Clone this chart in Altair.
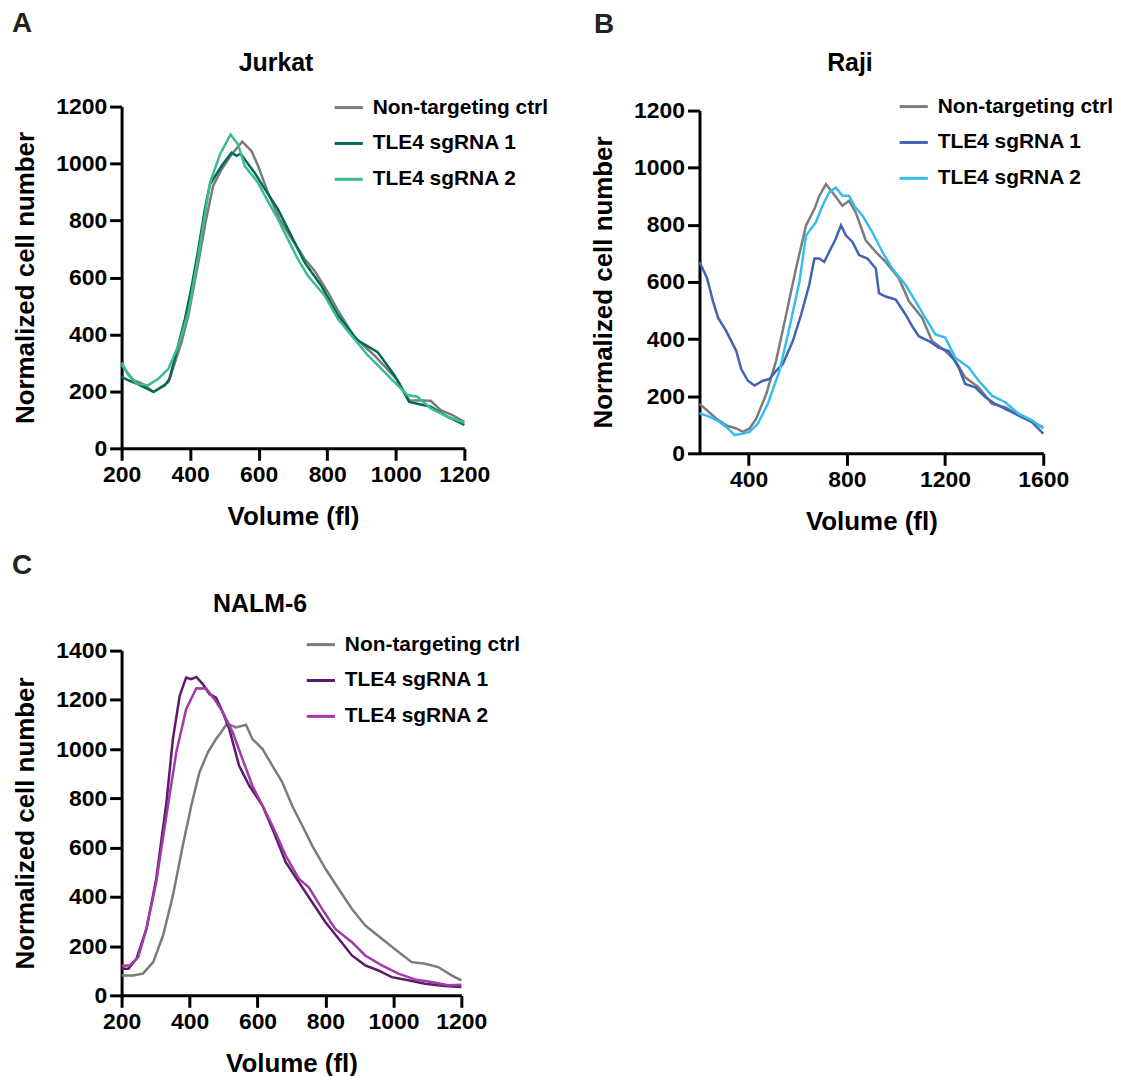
import altair as alt
import pandas as pd

FONT = "Liberation Sans"
series_names = ["Non-targeting ctrl", "TLE4 sgRNA 1", "TLE4 sgRNA 2"]

# ---------------- Panel A: Jurkat ----------------
a_ctrl_x = [200, 234, 260, 293, 337, 356, 375, 395, 424, 446, 467, 492, 521, 552, 579, 598, 627, 661, 700, 734, 763, 802, 831, 879, 937, 1005, 1039, 1070, 1102, 1131, 1165, 1200]
a_ctrl_y = [292, 240, 227, 198, 233, 303, 373, 467, 653, 800, 921, 980, 1032, 1077, 1044, 992, 898, 805, 729, 665, 624, 548, 484, 391, 327, 239, 169, 168, 167, 134, 117, 93]
a_sg1_x = [200, 220, 244, 293, 327, 340, 385, 405, 424, 443, 458, 492, 521, 535, 547, 559, 588, 618, 656, 695, 734, 782, 831, 889, 947, 996, 1039, 1102, 1151, 1200]
a_sg1_y = [251, 239, 227, 198, 222, 245, 455, 572, 700, 840, 927, 992, 1038, 1027, 1035, 1015, 968, 910, 840, 747, 653, 572, 467, 379, 338, 257, 163, 146, 111, 82]
a_sg2_x = [200, 220, 244, 278, 308, 337, 366, 395, 424, 458, 487, 518, 540, 559, 598, 618, 656, 690, 714, 743, 792, 831, 870, 918, 986, 1034, 1063, 1102, 1151, 1200]
a_sg2_y = [301, 257, 227, 222, 245, 280, 362, 478, 677, 933, 1032, 1102, 1067, 992, 933, 887, 805, 723, 665, 607, 537, 455, 397, 327, 245, 187, 181, 140, 111, 90]

# ---------------- Panel B: Raji ----------------
b_ctrl_x = [200, 231, 269, 309, 350, 377, 404, 431, 472, 512, 553, 593, 634, 668, 688, 715, 742, 782, 809, 836, 877, 918, 958, 1012, 1053, 1107, 1147, 1201, 1242, 1282, 1337, 1391, 1445, 1499, 1553, 1600]
b_ctrl_y = [173, 150, 121, 98, 87, 75, 87, 121, 208, 324, 486, 647, 798, 855, 902, 942, 913, 867, 884, 844, 746, 705, 670, 613, 532, 474, 393, 358, 324, 266, 231, 173, 162, 133, 110, 92]
b_sg1_x = [200, 231, 255, 276, 309, 350, 370, 397, 424, 458, 485, 512, 539, 580, 614, 647, 668, 688, 708, 728, 755, 776, 796, 823, 850, 884, 918, 931, 958, 999, 1039, 1066, 1093, 1134, 1174, 1215, 1255, 1282, 1323, 1364, 1404, 1445, 1499, 1553, 1600]
b_sg1_y = [670, 613, 532, 474, 428, 358, 295, 254, 237, 254, 260, 289, 312, 393, 486, 590, 682, 682, 670, 705, 751, 798, 763, 740, 694, 682, 647, 561, 549, 538, 486, 445, 410, 393, 370, 358, 301, 243, 231, 197, 173, 156, 133, 110, 69]
b_sg2_x = [200, 244, 282, 316, 343, 377, 404, 438, 478, 526, 566, 607, 634, 674, 701, 728, 755, 782, 809, 830, 864, 904, 945, 985, 1039, 1080, 1120, 1161, 1201, 1242, 1296, 1337, 1391, 1445, 1499, 1553, 1600]
b_sg2_y = [141, 127, 110, 87, 64, 69, 75, 104, 173, 289, 439, 601, 763, 809, 867, 913, 931, 902, 902, 867, 832, 774, 705, 647, 590, 532, 474, 416, 405, 335, 301, 254, 202, 179, 139, 116, 87]

# ---------------- Panel C: NALM-6 ----------------
c_ctrl_x = [200, 234, 263, 293, 322, 351, 380, 405, 429, 454, 478, 493, 510, 537, 566, 585, 615, 644, 673, 702, 732, 761, 800, 839, 878, 917, 966, 1015, 1054, 1093, 1132, 1171, 1200]
c_ctrl_y = [81, 81, 88, 135, 243, 405, 608, 770, 905, 987, 1041, 1068, 1104, 1088, 1099, 1041, 1000, 932, 865, 770, 689, 608, 514, 432, 351, 284, 230, 176, 135, 128, 115, 81, 61]
c_sg1_x = [200, 220, 244, 273, 302, 332, 351, 371, 390, 405, 420, 439, 459, 478, 498, 517, 546, 576, 615, 644, 683, 722, 761, 800, 839, 878, 917, 956, 995, 1044, 1093, 1151, 1200]
c_sg1_y = [108, 108, 149, 270, 473, 784, 1041, 1216, 1291, 1284, 1293, 1264, 1223, 1209, 1149, 1081, 932, 851, 770, 676, 541, 459, 378, 297, 230, 162, 122, 101, 74, 61, 47, 38, 34]
c_sg2_x = [200, 224, 249, 273, 302, 332, 361, 390, 420, 449, 473, 498, 527, 556, 585, 615, 644, 683, 722, 751, 790, 829, 878, 917, 966, 1015, 1063, 1112, 1161, 1200]
c_sg2_y = [119, 122, 155, 270, 459, 730, 987, 1162, 1247, 1246, 1203, 1149, 1068, 959, 851, 770, 689, 568, 473, 439, 351, 270, 216, 162, 122, 88, 65, 54, 41, 43]

colors_a = ["#7b7b7b", "#00695a", "#3cbc8d"]
colors_b = ["#7b7b7b", "#4262b5", "#34bdf0"]
colors_c = ["#7b7b7b", "#5c1a6a", "#a23aa8"]


def make_df(xs, ys, key):
    rows = []
    for name, xv, yv in zip(series_names, xs, ys):
        for a, b in zip(xv, yv):
            rows.append({"vol": a, "count": b, key: name})
    return pd.DataFrame(rows)


def panel(df, key, letter, title, colors, xdom, xvals, ydom, yvals, w, h,
          leg_x, leg_y, letter_pos, title_pos, yrange=None):
    yscale = (alt.Scale(domain=ydom, nice=False, range=yrange) if yrange
              else alt.Scale(domain=ydom, nice=False))
    lines = alt.Chart(df).mark_line(strokeWidth=2.5).encode(
        x=alt.X("vol:Q", title="Volume (fl)",
                scale=alt.Scale(domain=xdom, nice=False, zero=False),
                axis=alt.Axis(values=xvals, format="d")),
        y=alt.Y("count:Q", title="Normalized cell number",
                scale=yscale,
                axis=alt.Axis(values=yvals, format="d")),
        color=alt.Color(f"{key}:N",
                        scale=alt.Scale(domain=series_names, range=colors),
                        legend=alt.Legend(title=None, orient="none",
                                          legendX=leg_x, legendY=leg_y,
                                          symbolType="stroke", symbolStrokeWidth=3,
                                          symbolSize=800, labelFont=FONT,
                                          labelFontSize=21, labelFontWeight="bold",
                                          labelColor="black", rowPadding=10,
                                          labelOffset=8, padding=0, labelLimit=0)),
    )
    letter_t = alt.Chart(pd.DataFrame({"t": [letter]})).mark_text(
        align="left", baseline="middle", font=FONT, fontSize=28,
        fontWeight="bold", color="#222222"
    ).encode(text="t:N", x=alt.value(letter_pos[0]), y=alt.value(letter_pos[1]))
    title_t = alt.Chart(pd.DataFrame({"t": [title]})).mark_text(
        align="center", baseline="alphabetic", font=FONT, fontSize=25,
        fontWeight="bold", color="black"
    ).encode(text="t:N", x=alt.value(title_pos[0]), y=alt.value(title_pos[1]))
    return alt.layer(lines, letter_t, title_t).properties(width=w, height=h)


pa = panel(make_df([a_ctrl_x, a_sg1_x, a_sg2_x], [a_ctrl_y, a_sg1_y, a_sg2_y], "series_a"),
           "series_a", "A", "Jurkat", colors_a, [200, 1200], [200, 400, 600, 800, 1000, 1200],
           [0, 1200], [0, 200, 400, 600, 800, 1000, 1200], 344, 343,
           212, -15, (-110, -83), (155, -36))
pb = panel(make_df([b_ctrl_x, b_sg1_x, b_sg2_x], [b_ctrl_y, b_sg1_y, b_sg2_y], "series_b"),
           "series_b", "B", "Raji", colors_b, [200, 1600], [400, 800, 1200, 1600],
           [0, 1200], [0, 200, 400, 600, 800, 1000, 1200], 345, 348,
           199, -16, (-106, -82), (151, -36), yrange=[348, 4])
pc = panel(make_df([c_ctrl_x, c_sg1_x, c_sg2_x], [c_ctrl_y, c_sg1_y, c_sg2_y], "series_c"),
           "series_c", "C", "NALM-6", colors_c, [200, 1200], [200, 400, 600, 800, 1000, 1200],
           [0, 1400], [0, 200, 400, 600, 800, 1000, 1200, 1400], 341, 346,
           184, -22, (-110, -85), (139, -39))

chart = alt.concat(pa, pb, pc, columns=2, bounds="flush",
                   spacing={"row": 198, "column": 236}).resolve_scale(
    color="independent", x="independent", y="independent"
).properties(
    padding={"left": 4, "top": 0, "right": 0, "bottom": 0}
).configure_view(stroke=None).configure_axis(
    grid=False, domainColor="black", domainWidth=3, tickColor="black",
    tickWidth=3, tickSize=12, labelFont=FONT, labelFontSize=23,
    labelFontWeight="bold", labelColor="black", labelPadding=3,
    titleFont=FONT, titleFontSize=26, titleFontWeight="bold",
    titleColor="black", titlePadding=17, labelOverlap=False, labelFlush=False
)

chart.save("out.html", embed_options={"renderer": "svg", "actions": False})
